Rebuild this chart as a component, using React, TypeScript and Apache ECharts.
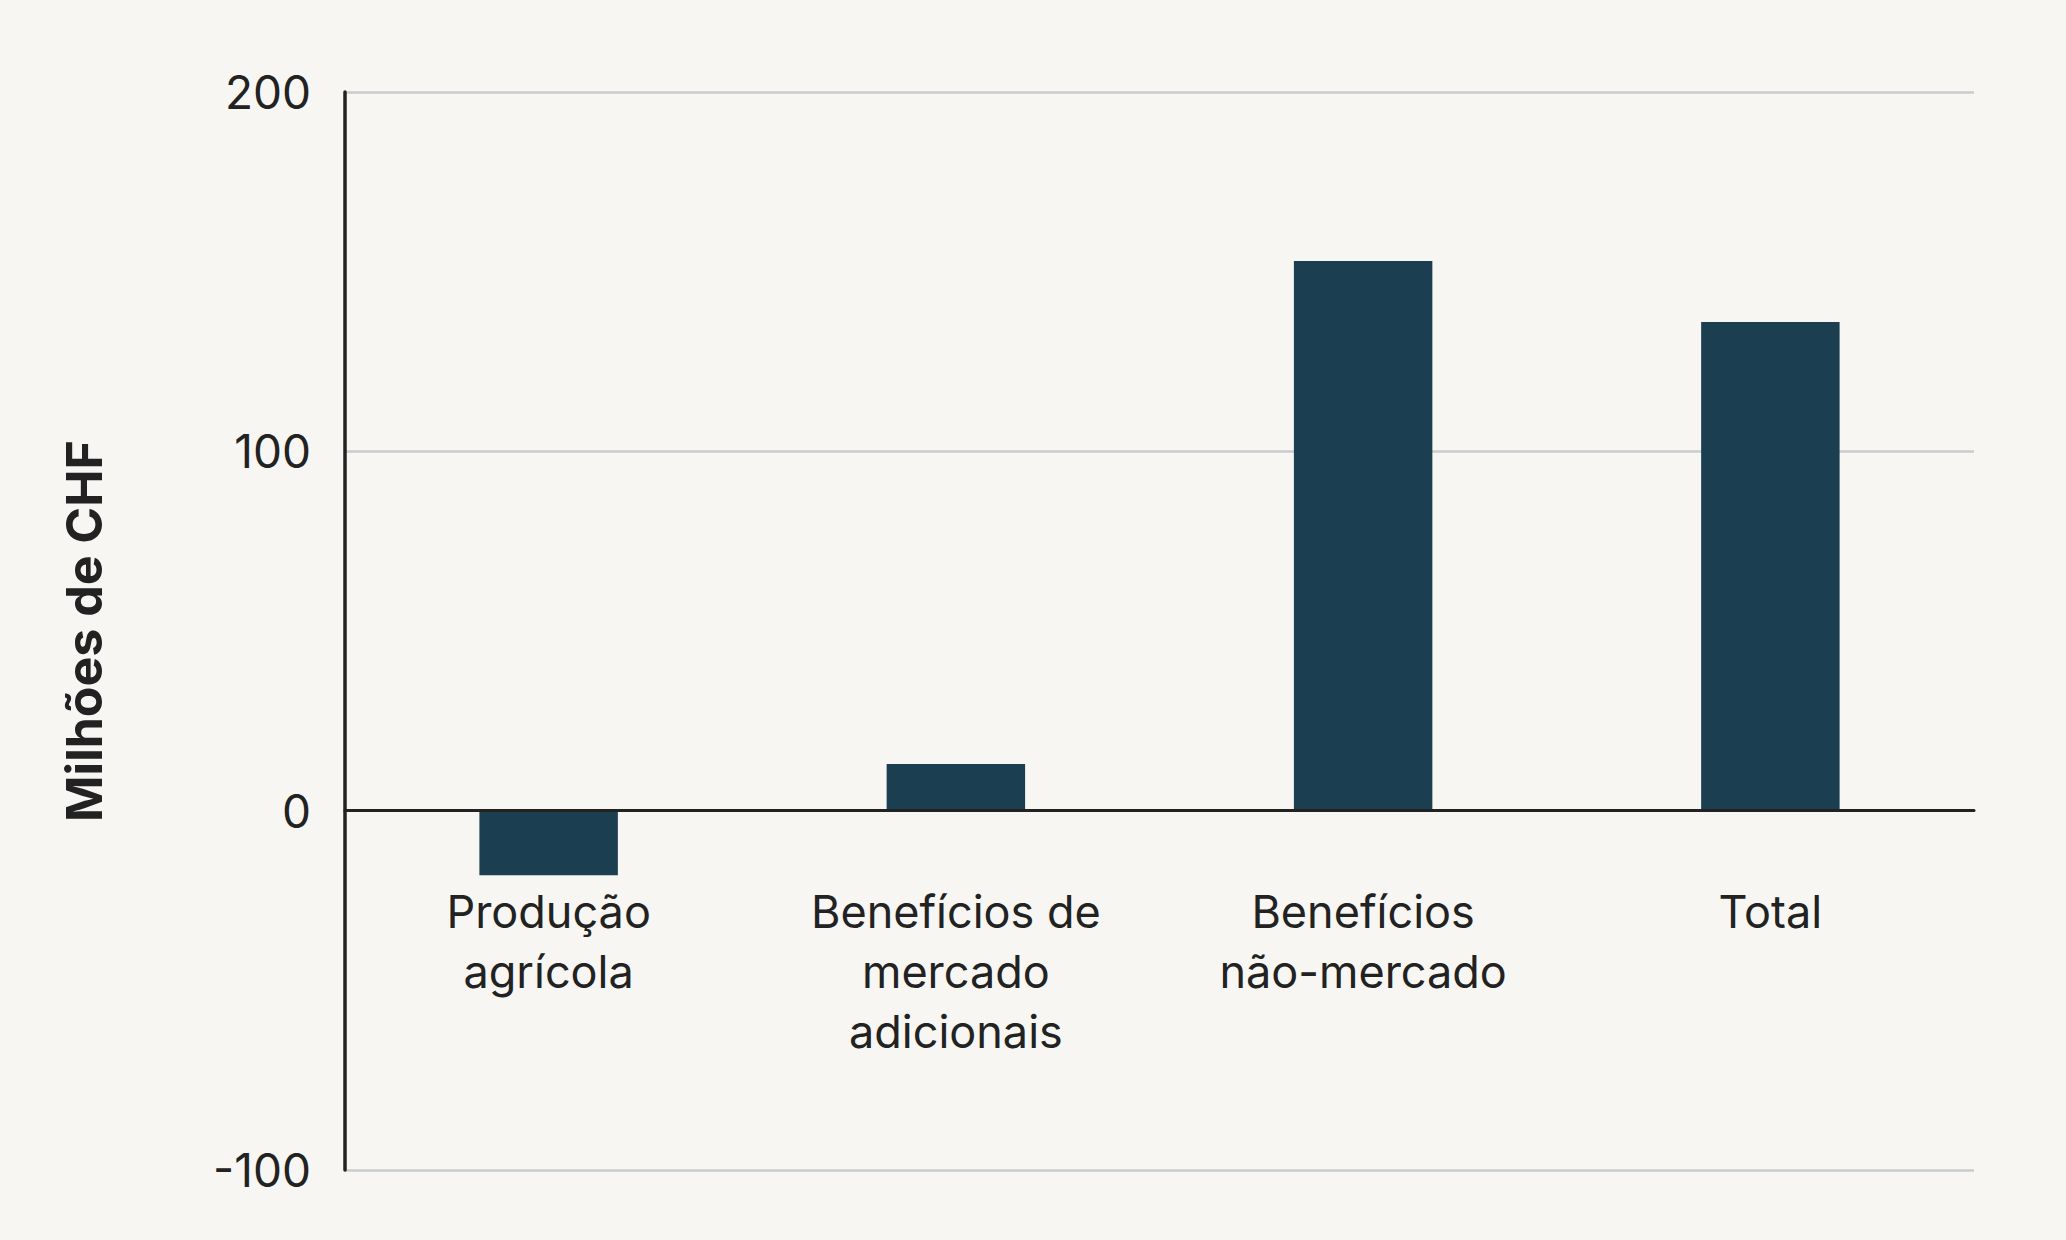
import React, { useEffect, useRef } from "react";
import * as echarts from "echarts";

const categories = [
  "Produção\nagrícola",
  "Benefícios de\nmercado\nadicionais",
  "Benefícios\nnão-mercado",
  "Total",
];
const values = [-18, 13, 153, 136];
const yTicks = { min: -100, max: 200, interval: 100 };
const yAxisTitle = "Milhões de CHF";

export default function App() {
  const ref = useRef<HTMLDivElement>(null);
  useEffect(() => {
    document.body.style.margin = "0";
    document.body.style.background = "#f7f6f2";
    const chart = echarts.init(ref.current!, undefined, { renderer: "svg" });
    chart.setOption({
      animation: false,
      backgroundColor: "#f7f6f2",
      textStyle: { fontFamily: "Inter" },
      grid: {
        left: 345,
        right: 92,
        top: 92,
        bottom: 70,
        containLabel: false,
        outerBoundsMode: "none",
      },
      xAxis: {
        type: "category",
        data: categories,
        axisLine: { show: true, onZero: true, lineStyle: { color: "#222222", width: 3 } },
        axisTick: { show: false },
        axisLabel: {
          color: "#222222",
          fontSize: 45,
          fontFamily: "Inter",
          lineHeight: 60,
          margin: -289,
          interval: 0,
        },
        z: 5,
      },
      yAxis: {
        type: "value",
        min: yTicks.min,
        max: yTicks.max,
        interval: yTicks.interval,
        name: yAxisTitle,
        nameLocation: "middle",
        nameRotate: 90,
        nameGap: 236,
        nameTextStyle: {
          color: "#222222",
          fontSize: 50,
          fontWeight: "bold",
          fontFamily: "Inter",
        },
        axisLine: { show: true, lineStyle: { color: "#222222", width: 3.5 } },
        axisTick: { show: false },
        axisLabel: {
          color: "#222222",
          fontSize: 46,
          fontFamily: "Inter",
          margin: 34,
        },
        splitLine: { show: true, lineStyle: { color: "#c9cbce", width: 2.5 } },
      },
      series: [
        {
          type: "bar",
          data: values,
          barWidth: "34%",
          itemStyle: { color: "#1c3e51" },
        },
      ],
    });
    return () => chart.dispose();
  }, []);
  return <div ref={ref} style={{ width: 2066, height: 1240 }} />;
}
